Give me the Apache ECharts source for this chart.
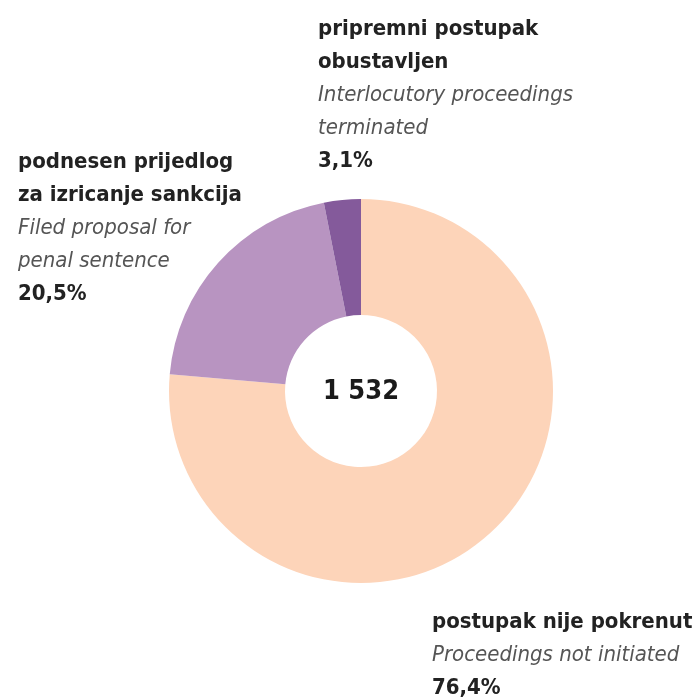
<!DOCTYPE html>
<html>
<head>
<meta charset="utf-8">
<script src="https://cdn.jsdelivr.net/npm/echarts@6/dist/echarts.min.js"></script>
<style>
    html, body { margin: 0; padding: 0; background: #fff; }
    #chart { width: 696px; height: 699px; }
</style>
</head>
<body>
<div id="chart"></div>
<script>
// podaci
var names = ['postupak nije pokrenut', 'podnesen prijedlog\nza izricanje sankcija', 'pripremni postupak\nobustavljen'];
var english = ['Proceedings not initiated', 'Filed proposal for\npenal sentence', 'Interlocutory proceedings\nterminated'];
var shares = [76.4, 20.5, 3.1];
var colors = ['#fdd4b9', '#b894c1', '#845a9b'];
var total = '1 532';

// gdje stoje natpisi
var labelPos = [{x: 432, y: 606}, {x: 18, y: 146}, {x: 318, y: 13}];

var font = "'Liberation Sans Narrow', 'DejaVu Sans Condensed', 'Arial Narrow', sans-serif";

var myChart = echarts.init(document.getElementById('chart'));

var pieData = [];
for (var i = 0; i < shares.length; i++) {
    pieData.push({
        name: names[i],
        value: shares[i],
        itemStyle: {color: colors[i]}
    });
}

function wrap(text, style) {
    return text.split('\n').map(function (t) {
        return '{' + style + '|' + t + '}';
    }).join('\n');
}

var option = {
    backgroundColor: '#fff',
    animation: false,
    graphic: [{
        type: 'text',
        x: 361,
        y: 392,
        style: {
            text: total,
            fontFamily: font,
            fontSize: 27,
            fontWeight: 'bold',
            fill: '#1a1a1a',
            align: 'center',
            verticalAlign: 'middle'
        }
    }],
    series: [{
        type: 'pie',
        center: [361, 391],
        radius: [76, 192],
        startAngle: 90,
        clockwise: true,
        data: pieData,
        labelLine: {show: false},
        label: {
            show: true,
            position: 'inside',
            overflow: 'none',
            formatter: function (p) {
                var i = p.dataIndex;
                return wrap(names[i], 'n') + '\n' + wrap(english[i], 'e') + '\n' +
                    '{n|' + shares[i].toFixed(1).replace('.', ',') + '%}';
            },
            rich: {
                n: {fontFamily: font, fontSize: 22, fontWeight: 'bold', color: '#222', lineHeight: 33},
                e: {fontFamily: font, fontSize: 22, fontStyle: 'italic', color: '#555', lineHeight: 33}
            }
        },
        labelLayout: function (params) {
            var pos = labelPos[params.dataIndex];
            return {x: pos.x, y: pos.y, align: 'left', verticalAlign: 'top'};
        }
    }]
};

myChart.setOption(option);
</script>
</body>
</html>
